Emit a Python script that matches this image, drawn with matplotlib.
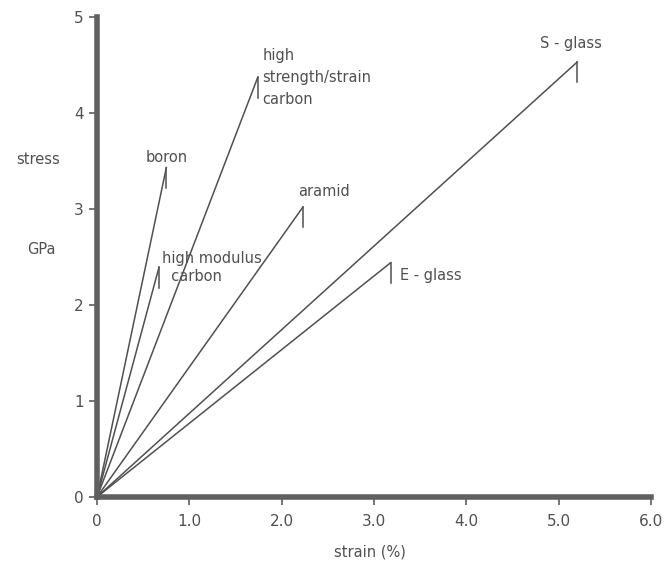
import matplotlib
matplotlib.use("Agg")
import matplotlib.pyplot as plt

# fibre end points: strain (%) and stress (GPa)
fibres = ["boron", "high modulus\n  carbon", "high\nstrength/strain\ncarbon",
          "aramid", "E - glass", "S - glass"]
strain = [0.75, 0.67, 1.74, 2.23, 3.18, 5.20]
stress = [3.43, 2.39, 4.37, 3.02, 2.44, 4.53]
tick_drop = 0.21

xticks = [0, 1, 2, 3, 4, 5, 6]
xticklabels = ["0", "1.0", "2.0", "3.0", "4.0", "5.0", "6.0"]
yticks = [0, 1, 2, 3, 4, 5]

ink = "#505050"

fig = plt.figure(figsize=(6.65, 5.64), dpi=100)
ax = fig.add_axes([0.146, 0.119, 0.833, 0.851])

for s, t in zip(strain, stress):
    ax.plot([0, s], [0, t], color=ink, linewidth=1.1)
    ax.plot([s, s], [t, t - tick_drop], color=ink, linewidth=1.1)

# labels beside each line end
lab = dict(color=ink, fontsize=10.5)
ax.text(strain[0], stress[0] + 0.03, fibres[0], ha="center", va="bottom", **lab)
ax.text(strain[1] + 0.03, stress[1] + 0.0, fibres[1], ha="left", va="center",
        linespacing=1.2, **lab)
ax.text(strain[2] + 0.05, stress[2] + 0.31, fibres[2], ha="left", va="top",
        linespacing=1.6, **lab)
ax.text(strain[3] - 0.05, stress[3] + 0.08, fibres[3], ha="left", va="bottom", **lab)
ax.text(strain[4] + 0.1, stress[4] - 0.13, fibres[4], ha="left", va="center", **lab)
ax.text(strain[5] - 0.4, stress[5] + 0.12, fibres[5], ha="left", va="bottom", **lab)

ax.set_xlim(0, 6)
ax.set_ylim(0, 5)
ax.set_xticks(xticks)
ax.set_xticklabels(xticklabels)
ax.set_yticks(yticks)

for side in ["top", "right"]:
    ax.spines[side].set_visible(False)
for side in ["left", "bottom"]:
    ax.spines[side].set_linewidth(4)
    ax.spines[side].set_color("#606060")

ax.tick_params(axis="both", colors=ink, labelcolor=ink, labelsize=11,
               length=6, width=1.1, direction="out")
ax.tick_params(axis="x", pad=6)

fig.text(38 / 665, 1 - 160 / 564, "stress", ha="center", va="center", **lab)
fig.text(41 / 665, 1 - 250 / 564, "GPa", ha="center", va="center", **lab)
fig.text(370 / 665, 1 - 552 / 564, "strain (%)", ha="center", va="center", **lab)

fig.savefig("out.png", dpi=100)
